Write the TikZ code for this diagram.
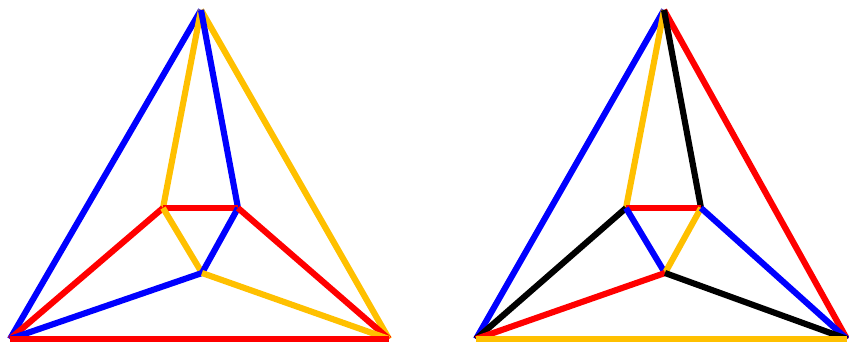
\documentclass[tikz,border=0pt]{standalone}
\usetikzlibrary{positioning}
\definecolor{graphblue}{HTML}{0000FF}
\definecolor{graphred}{HTML}{FF0000}
\definecolor{graphgold}{HTML}{FFC000}
\definecolor{graphblack}{HTML}{000000}

\begin{document}
\begin{tikzpicture}[x=0.75pt,y=-0.75pt,
    edge/.style={line width=4.6pt}]
        \useasboundingbox (0,0) rectangle (849,342);

        % left graph
        \coordinate (ltop) at (201,10);
        \coordinate (lbl)  at (10,339);
        \coordinate (lbr)  at (389,339);
        \coordinate (la)   at (163,208);
        \coordinate (lb)   at (238,208);
        \coordinate (lc)   at (202,273);

        \draw[edge,graphblue] (ltop) -- (lbl);
        \draw[edge,graphgold] (ltop) -- (lbr);
        \draw[edge,graphgold] (ltop) -- (la);
        \draw[edge,graphblue] (ltop) -- (lb);
        \draw[edge,graphred]  (la) -- (lb);
        \draw[edge,graphred]  (la) -- (lbl);
        \draw[edge,graphgold] (la) -- (lc);
        \draw[edge,graphblue] (lb) -- (lc);
        \draw[edge,graphred]  (lb) -- (lbr);
        \draw[edge,graphblue] (lc) -- (lbl);
        \draw[edge,graphgold] (lc) -- (lbr);
        \draw[edge,graphred]  (lbl) -- (lbr);

        % right graph
        \coordinate (rtop) at (664,10);
        \coordinate (rbl)  at (476,339);
        \coordinate (rbr)  at (847,339);
        \coordinate (ra)   at (626,208);
        \coordinate (rb)   at (701,208);
        \coordinate (rc)   at (665,273);

        \draw[edge,graphblue]  (rtop) -- (rbl);
        \draw[edge,graphred]   (rtop) -- (rbr);
        \draw[edge,graphgold]  (rtop) -- (ra);
        \draw[edge,graphblack] (rtop) -- (rb);
        \draw[edge,graphred]   (ra) -- (rb);
        \draw[edge,graphblack] (ra) -- (rbl);
        \draw[edge,graphblue]  (ra) -- (rc);
        \draw[edge,graphgold]  (rb) -- (rc);
        \draw[edge,graphblue]  (rb) -- (rbr);
        \draw[edge,graphred]   (rc) -- (rbl);
        \draw[edge,graphblack] (rc) -- (rbr);
        \draw[edge,graphgold]  (rbl) -- (rbr);
      \end{tikzpicture}
\end{document}
